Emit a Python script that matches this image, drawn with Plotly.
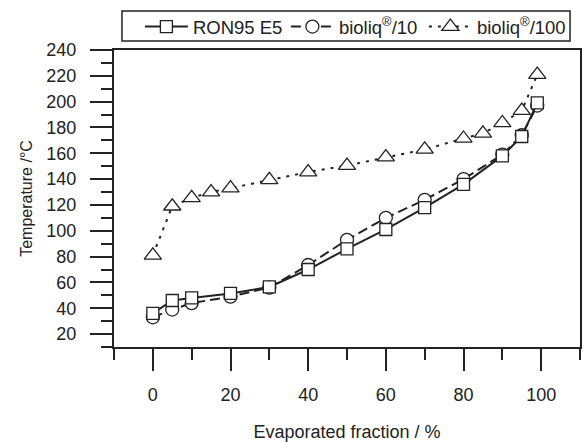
import plotly.graph_objects as go

x_ron = [0, 5, 10, 20, 30, 40, 50, 60, 70, 80, 90, 95, 99]
y_ron = [36, 46, 48, 51.5, 56.5, 70, 86, 101, 118, 136, 158, 173, 199]

x_b10 = [0, 5, 10, 20, 30, 40, 50, 60, 70, 80, 90, 95, 99]
y_b10 = [33, 39, 44, 49, 56, 73.5, 93, 110, 124, 140, 159, 174, 197]

x_b100 = [0, 5, 10, 15, 20, 30, 40, 50, 60, 70, 80, 85, 90, 95, 99]
y_b100 = [81, 119, 125.5, 130, 133, 139.5, 145.5, 150.5, 157, 163, 171.5, 175.5, 183.5, 193, 221]

names = ["RON95 E5", "bioliq<sup>®</sup>/10", "bioliq<sup>®</sup>/100"]

ink = "#222222"
FONT = "Liberation Sans, Arial, sans-serif"

fig = go.Figure()
fig.add_trace(go.Scatter(
    x=x_b100, y=y_b100, name=names[2], mode="lines+markers", legendrank=3, legendwidth=90,
    line=dict(color=ink, width=2, dash="3px,6px"),
    marker=dict(symbol="triangle-up", size=15, color="white", line=dict(color=ink, width=1.3)),
))
fig.add_trace(go.Scatter(
    x=x_b10, y=y_b10, name=names[1], mode="lines+markers", legendrank=2, legendwidth=80,
    line=dict(color=ink, width=2, dash="10px,5px"),
    marker=dict(symbol="circle", size=13, color="white", line=dict(color=ink, width=1.3)),
))
fig.add_trace(go.Scatter(
    x=x_ron, y=y_ron, name=names[0], mode="lines+markers", legendrank=1, legendwidth=88,
    line=dict(color=ink, width=2, dash="solid"),
    marker=dict(symbol="square", size=12, color="white", line=dict(color=ink, width=1.3)),
))

axis_common = dict(
    showline=True, linecolor=ink, linewidth=2, mirror=True,
    ticks="outside", ticklen=22, tickwidth=2, tickcolor=ink,
    showgrid=False, zeroline=False,
    tickfont=dict(family=FONT, size=18, color=ink),
)

fig.update_xaxes(
    range=[-10, 110], tick0=0, dtick=20,
    minor=dict(ticks="outside", ticklen=11, tickwidth=2, tickcolor=ink, dtick=10, tick0=0, showgrid=False),
    title=dict(text="Evaporated fraction / %", font=dict(family=FONT, size=18, color=ink), standoff=22),
    ticklabelstandoff=8,
    **axis_common,
)
fig.update_yaxes(
    range=[10, 240], tick0=0, dtick=20,
    minor=dict(ticks="outside", ticklen=11, tickwidth=2, tickcolor=ink, dtick=10, tick0=0, showgrid=False),
    title=dict(text="Temperature /°C", font=dict(family=FONT, size=16, color=ink), standoff=10),
    ticklabelstandoff=10,
    **axis_common,
)

fig.update_layout(
    width=585, height=442,
    margin=dict(l=114, r=3, t=50, b=95),
    plot_bgcolor="white", paper_bgcolor="white",
    font=dict(family=FONT, size=18, color=ink),
    legend=dict(
        orientation="h", x=(140 - 114) / 468, y=(347 - 27) / 297,
        xanchor="left", yanchor="middle",
        borderwidth=0, bgcolor="rgba(0,0,0,0)",
        itemwidth=43,
        font=dict(family=FONT, size=18.5, color=ink),
        traceorder="normal",
    ),
    shapes=[dict(
        type="rect", xref="paper", yref="paper",
        x0=(122 - 114) / 468, x1=(572 - 114) / 468,
        y0=(347 - 41) / 297, y1=(347 - 11) / 297,
        line=dict(color=ink, width=1.5), fillcolor="rgba(0,0,0,0)",
    )],
    showlegend=True,
)

fig.write_html("out.html")
